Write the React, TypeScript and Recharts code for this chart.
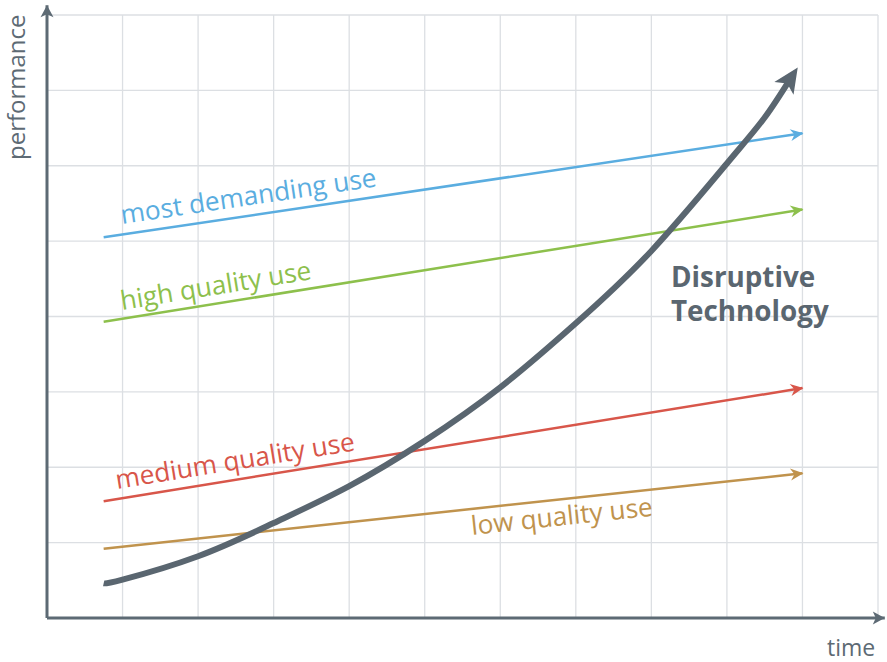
import React from 'react';
import { LineChart, Line, XAxis, YAxis, CartesianGrid, ReferenceLine } from 'recharts';

// grid / axis range (one unit = one grid cell)
const xTicks = [0, 1, 2, 3, 4, 5, 6, 7, 8, 9, 10, 11];
const yTicks = [0, 1, 2, 3, 4, 5, 6, 7, 8];

// straight market-need lines: start and end only
const mostDemanding = [
  { t: 0.75, p: 5.05 },
  { t: 10, p: 6.43 },
];
const highQuality = [
  { t: 0.75, p: 3.93 },
  { t: 10, p: 5.42 },
];
const mediumQuality = [
  { t: 0.75, p: 1.55 },
  { t: 10, p: 3.05 },
];
const lowQuality = [
  { t: 0.75, p: 0.92 },
  { t: 10, p: 1.92 },
];

// disruptive technology curve
const disruptive = [
  { t: 0.75, p: 0.46 },
  { t: 1, p: 0.51 },
  { t: 2, p: 0.82 },
  { t: 3, p: 1.26 },
  { t: 4, p: 1.75 },
  { t: 5, p: 2.35 },
  { t: 6, p: 3.06 },
  { t: 7, p: 3.91 },
  { t: 8, p: 4.87 },
  { t: 9, p: 6.03 },
  { t: 9.5, p: 6.64 },
  { t: 9.85, p: 7.17 },
];

const AXIS = '#5d6a74';
const DARK = '#5a6670';
const BLUE = '#5aade0';
const GREEN = '#8dc04c';
const RED = '#d8564a';
const GOLD = '#c0934d';
const FONT = '"Open Sans", "Noto Sans", sans-serif';

// arrow head drawn on the last point of a line, pointing along the last segment
const arrowDot = (len: number, half: number, notch: number, color: string, extend: number) => (props: any) => {
  const { index, points, cx, cy } = props;
  if (!points || index !== points.length - 1) return <g key={`d${index}`} />;
  const prev = points[index - 1];
  const ang = (Math.atan2(cy - prev.y, cx - prev.x) * 180) / Math.PI;
  return (
    <path
      key={`d${index}`}
      transform={`translate(${cx},${cy}) rotate(${ang})`}
      d={`M${extend},0 L${extend - len},${-half} L${extend - len + notch},0 L${extend - len},${half} Z`}
      fill={color}
    />
  );
};

const axisArrow = (props: any) => {
  const { x1, y1, x2, y2 } = props;
  const ang = (Math.atan2(y2 - y1, x2 - x1) * 180) / Math.PI;
  return (
    <g>
      <line x1={x1} y1={y1} x2={x2} y2={y2} stroke={AXIS} strokeWidth={3} />
      <path transform={`translate(${x2},${y2}) rotate(${ang})`} d="M0,0 L-12,-6.5 L-9,0 L-12,6.5 Z" fill={AXIS} />
    </g>
  );
};

const App = () => {
  return (
    <div style={{ position: 'absolute', left: 0, top: 0, width: 887, height: 662, background: '#fff' }}>
      <LineChart width={887} height={662} margin={{ top: 15, right: 9, bottom: 44, left: 47 }}>
        <CartesianGrid stroke="#dcdfe3" strokeWidth={1.3} />
        <XAxis type="number" dataKey="t" domain={[0, 11]} ticks={xTicks} hide allowDataOverflow />
        <YAxis type="number" dataKey="p" domain={[0, 8]} ticks={yTicks} hide allowDataOverflow />

        <Line data={mostDemanding} dataKey="p" stroke={BLUE} strokeWidth={2.5} dot={arrowDot(13, 6, 4, BLUE, 1)} activeDot={false} isAnimationActive={false} />
        <Line data={highQuality} dataKey="p" stroke={GREEN} strokeWidth={2.5} dot={arrowDot(13, 6, 4, GREEN, 1)} activeDot={false} isAnimationActive={false} />
        <Line data={mediumQuality} dataKey="p" stroke={RED} strokeWidth={2.5} dot={arrowDot(13, 6, 4, RED, 1)} activeDot={false} isAnimationActive={false} />
        <Line data={lowQuality} dataKey="p" stroke={GOLD} strokeWidth={2.5} dot={arrowDot(13, 6, 4, GOLD, 1)} activeDot={false} isAnimationActive={false} />
        <Line data={disruptive} dataKey="p" type="natural" stroke={DARK} strokeWidth={6} dot={arrowDot(25, 11.5, 6, DARK, 12)} activeDot={false} isAnimationActive={false} />

        <ReferenceLine segment={[{ x: 0, y: 0 }, { x: 0, y: 8.13 }]} ifOverflow="visible" shape={axisArrow} />
        <ReferenceLine segment={[{ x: 0, y: 0 }, { x: 11.09, y: 0 }]} ifOverflow="visible" shape={axisArrow} />
      </LineChart>

      {/* annotations */}
      <svg width={887} height={662} style={{ position: 'absolute', left: 0, top: 0, pointerEvents: 'none' }}>
        <g fontFamily={FONT} fontSize={26.3}>
          <text x={0} y={0} fill={BLUE} transform="translate(122,224) rotate(-8.4)">most demanding use</text>
          <text x={0} y={0} fill={GREEN} transform="translate(122,310) rotate(-9.2)">high quality use</text>
          <text x={0} y={0} fill={RED} transform="translate(117,489) rotate(-9.2)">medium quality use</text>
          <text x={0} y={0} fill={GOLD} transform="translate(472,535) rotate(-6.1)">low quality use</text>
          <text x={0} y={0} fill={AXIS} fontSize={24} transform="translate(25,160) rotate(-90)">performance</text>
          <text x={827} y={656} fill={AXIS} fontSize={23}>time</text>
        </g>
        <g fontFamily={FONT} fontSize={27.8} fontWeight={700} fill={DARK}>
          <text x={671} y={287}>Disruptive</text>
          <text x={671} y={321}>Technology</text>
        </g>
      </svg>
    </div>
  );
};

export default App;
